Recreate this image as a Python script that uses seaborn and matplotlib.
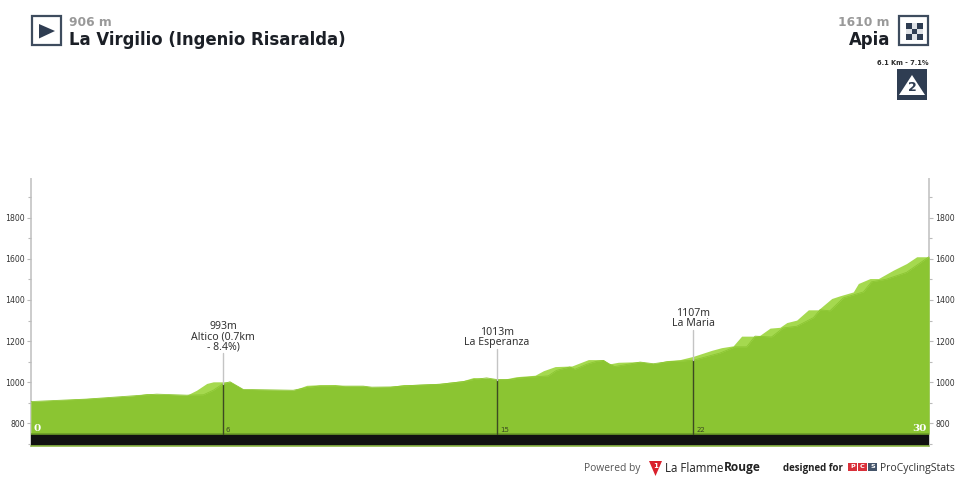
import matplotlib
matplotlib.use("Agg")
import matplotlib.pyplot as plt
from matplotlib.patches import Polygon, Rectangle
from matplotlib.ticker import MultipleLocator
import seaborn as sns

# Stage profile: back (lighter) ridge and front (darker) ridge
back_km = [0, 1.86, 3.42, 3.86, 4.2, 5.2, 5.53, 5.87, 6.09, 6.65, 7.09, 8.76, 9.21, 9.65,
           10.16, 10.49, 11.1, 11.38, 12.0, 12.45, 13.0, 13.66, 14.44, 14.78, 15.22, 15.56,
           15.84, 16.22, 16.84, 17.12, 17.51, 18.07, 18.62, 19.12, 19.32, 19.62, 20.35,
           20.79, 21.24, 21.68, 22.13, 22.74, 23.07, 23.46, 23.74, 24.19, 24.35, 24.69,
           25.02, 25.25, 25.58, 25.97, 26.3, 26.75, 27.02, 27.47, 27.64, 28.03, 28.31,
           28.81, 29.25, 29.59, 30]
back_m = [906, 921, 934, 945, 942, 937, 961, 994, 1002, 1002, 965, 961, 985, 988,
          989, 982, 982, 976, 979, 989, 989, 995, 1008, 1023, 1019, 1015,
          1016, 1027, 1034, 1056, 1076, 1079, 1110, 1110, 1089, 1097, 1100,
          1090, 1105, 1110, 1126, 1155, 1168, 1177, 1224, 1224, 1228, 1263,
          1267, 1290, 1302, 1352, 1352, 1407, 1420, 1439, 1480, 1504, 1504,
          1545, 1577, 1610, 1610]
front_km = [0, 1.86, 3.42, 4.2, 5.2, 5.76, 6.09, 6.42, 6.65, 7.09, 8.76, 9.21, 9.65,
            10.49, 11.1, 11.38, 12.0, 13.0, 13.66, 14.44, 14.78, 15.22, 15.57, 16.0, 16.34,
            17.28, 17.56, 18.0, 18.17, 18.56, 18.9, 19.12, 19.32, 19.5, 20.0, 20.35,
            20.79, 21.24, 21.68, 22.13, 23.02, 23.52, 23.91, 24.19, 24.74, 25.13, 25.58,
            26.14, 26.36, 26.69, 27.14, 27.81, 28.08, 28.58, 29.25, 30]
front_m = [906, 918, 934, 942, 937, 939, 961, 993, 1002, 965, 961, 974, 982,
           981, 981, 976, 977, 987, 990, 1003, 1013, 1021, 1013, 1013, 1021,
           1031, 1058, 1074, 1063, 1087, 1102, 1106, 1089, 1076, 1089, 1098,
           1090, 1099, 1103, 1107, 1142, 1172, 1172, 1224, 1220, 1264, 1272,
           1314, 1352, 1347, 1410, 1439, 1488, 1501, 1534, 1610]

# Intermediate points of the route
point_km = [6.42, 15.57, 22.13]
point_m = [993, 1013, 1107]
point_text = ["993m\nAltico (0.7km\n- 8.4%)", "1013m\nLa Esperanza", "1107m\nLa Maria"]
point_mark = ["6", "15", "22"]
stem_top = [1140, 1160, 1253]

DARK = "#8bc532"
LIGHT = "#a5d94f"
EDGE = "#6b9c27"
NAVY = "#2f3d52"
BASE = 748
FLOOR = 690

sns.set_theme(style="white")
fig = plt.figure(figsize=(9.6, 4.8), dpi=100, facecolor="white")
ax = fig.add_axes([31 / 960, 1 - 446 / 480, 898 / 960, 267 / 480], facecolor="none")

ax.fill_between(back_km, back_m, BASE, color=LIGHT, lw=0, zorder=1)
ax.fill_between(front_km, front_m, BASE, color=DARK, lw=0, zorder=2)
sns.lineplot(x=front_km, y=front_m, ax=ax, color=DARK, lw=0.6, estimator=None, sort=False, zorder=2)
ax.fill_between([0, 30], BASE, FLOOR, color="#111111", lw=0, zorder=3)
ax.plot([0, 30], [BASE, BASE], color=EDGE, lw=1.2, zorder=4)
ax.plot([0, 30], [FLOOR, FLOOR], color="#8db845", lw=1.2, zorder=4, clip_on=False)

ax.set_xlim(0, 30)
ax.set_ylim(FLOOR, 1988)
ax.set_xticks([])

# Elevation scale repeated on both sides
ax.yaxis.set_major_locator(MultipleLocator(200))
ax.yaxis.set_minor_locator(MultipleLocator(100))
ax.tick_params(axis="y", which="major", length=3, width=0.8, color="#bbbbbb", labelsize=5.6,
               labelcolor="#333333", pad=1.5, left=True, right=True, labelleft=True, labelright=True)
ax.tick_params(axis="y", which="minor", length=2, width=0.8, color="#bbbbbb", left=True, right=True)
ax.set_yticks([800, 1000, 1200, 1400, 1600, 1800])
for side in ("top", "bottom"):
    ax.spines[side].set_visible(False)
for side in ("left", "right"):
    ax.spines[side].set_color("#cccccc")
    ax.spines[side].set_linewidth(1.4)
    ax.spines[side].set_zorder(0)

# Route markers with labels
for km, m, label, mark, top in zip(point_km, point_m, point_text, point_mark, stem_top):
    ax.plot([km, km], [BASE, m], color="#3c4a22", lw=1.0, zorder=5)
    ax.plot([km, km], [m, top], color="#c4c4c4", lw=1.0, zorder=5)
    ax.annotate(label, (km, top), xytext=(0, 1), textcoords="offset points", ha="center", va="bottom",
                fontsize=7.6, color="#333333", linespacing=0.85, family="Noto Sans")
    ax.annotate(mark, (km, BASE), xytext=(2, 0.8), textcoords="offset points", ha="left", va="bottom",
                fontsize=5, color="#3c4a22", zorder=6)
ax.annotate("0", (0, BASE), xytext=(1.5, 0.5), textcoords="offset points", ha="left", va="bottom",
            fontsize=7.5, color="white", weight="bold", family="DejaVu Serif", zorder=6)
ax.annotate("30", (30, BASE), xytext=(-1.5, 0.5), textcoords="offset points", ha="right", va="bottom",
            fontsize=7.5, color="white", weight="bold", family="DejaVu Serif", zorder=6)

# Header, icons and credits are laid out in pixel units
ov = fig.add_axes([0, 0, 1, 1], facecolor="none")
ov.set_xlim(0, 960)
ov.set_ylim(480, 0)
ov.axis("off")

ov.text(69, 22, "906 m", fontsize=8.9, weight="bold", color="#999999", va="center", ha="left")
ov.text(69, 40, "La Virgilio (Ingenio Risaralda)", fontsize=11.9, weight="bold", color="#1b1f26", va="center", ha="left")
ov.text(890, 22, "1610 m", fontsize=8.9, weight="bold", color="#999999", va="center", ha="right")
ov.text(890, 40, "Apia", fontsize=11.9, weight="bold", color="#1b1f26", va="center", ha="right")
ov.text(929, 63, "6.1 Km - 7.1%", fontsize=5.3, weight="bold", stretch="condensed", color="#2b2b2b", va="center", ha="right")

ov.add_patch(Rectangle((32, 16), 28.5, 29, fc="white", ec="#3e4c5e", lw=1.6))
ov.add_patch(Polygon([(39, 24), (55, 31), (39, 38.5)], fc=NAVY, ec="none"))
ov.add_patch(Rectangle((899, 16), 29, 29, fc="white", ec="#3e4c5e", lw=1.6))
for row in range(3):
    for col in range(3):
        shade = NAVY if (row + col) % 2 == 0 else "#dfe2e6"
        ov.add_patch(Rectangle((906 + col * 5.5, 23 + row * 5.7), 5.5, 5.7, fc=shade, ec="none"))
ov.add_patch(Rectangle((897, 69), 30, 31, fc=NAVY, ec="none"))
ov.add_patch(Polygon([(912, 75), (925, 95), (899, 95)], fc="white", ec="none"))
ov.text(912, 87.5, "2", fontsize=9, weight="bold", color=NAVY, ha="center", va="center")

FOOT = 470.5
ov.text(584, FOOT, "Powered by", fontsize=7.4, color="#555555", va="baseline", ha="left", family="Open Sans")
ov.add_patch(Polygon([(649, 461), (662, 461), (655.5, 476)], fc="#d9202c", ec="none"))
ov.text(655.5, 466, "1", fontsize=5, weight="bold", color="white", va="center", ha="center")
ov.text(665, FOOT + 1, "La Flamme", fontsize=8.3, color="#222222", va="baseline", ha="left", family="Open Sans")
ov.text(724, FOOT + 1, "Rouge", fontsize=8.6, weight="bold", color="#222222", va="baseline", ha="left", family="Open Sans")
ov.text(783, FOOT, "designed for", fontsize=7, weight="bold", color="#222222", va="baseline", ha="left", family="Open Sans")
for left, letter, colour in zip([848, 858, 868], ["P", "C", "S"], ["#d9303a", "#d9303a", "#44546a"]):
    ov.add_patch(Rectangle((left, 463), 9, 8, fc=colour, ec="none"))
    ov.text(left + 4.5, 467, letter, fontsize=4.6, weight="bold", color="white", ha="center", va="center")
ov.text(880, FOOT, "ProCyclingStats", fontsize=7.5, color="#333333", va="baseline", ha="left", family="Open Sans")

fig.savefig("out.png", dpi=100, facecolor="white")
